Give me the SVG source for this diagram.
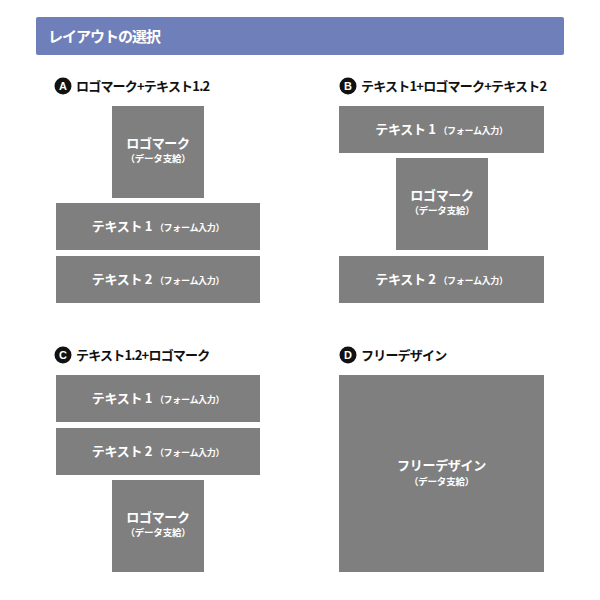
<svg xmlns="http://www.w3.org/2000/svg" width="600" height="600" viewBox="0 0 600 600">
<style>
.box{fill:#7f7f7f}
.t{font-family:"Noto Sans CJK JP","Noto Sans",sans-serif;font-weight:bold}
.big{fill:#fff;font-size:13px;letter-spacing:-0.3px}
.small{font-size:9px;letter-spacing:-0.3px}
.sub{fill:#fff;font-size:9.5px;letter-spacing:-0.2px}
.ttl{fill:#111;font-size:13px;letter-spacing:-0.8px}
.badge{fill:#111}
.bl{fill:#fff;font-size:11px;font-family:"Liberation Sans",sans-serif;font-weight:bold}
</style>
<rect width="600" height="600" fill="#fff"/>
<g id="header">
<rect x="36" y="17" width="528" height="38" rx="2" fill="#6e7fb9"/>
<text class="t" x="48" y="42" fill="#fff" font-size="15" letter-spacing="-1">レイアウトの選択</text>
</g>
<g id="sectionA">
<circle class="badge" cx="63" cy="86" r="8.5"/>
<text class="bl" x="63" y="90" text-anchor="middle">A</text>
<text class="t ttl" x="76" y="91">ロゴマーク+テキスト1.2</text>
<g id="A-logo"><rect class="box" x="112" y="106" width="92" height="92"/>
<text class="t big" x="158" y="148" text-anchor="middle">ロゴマーク</text>
<text class="t sub" x="158" y="162" text-anchor="middle">（データ支給）</text></g>
<g id="A-text1"><rect class="box" x="56" y="203" width="204" height="47"/>
<text class="t big" x="158" y="231" text-anchor="middle">テキスト 1 <tspan class="small">（フォーム入力）</tspan></text></g>
<g id="A-text2"><rect class="box" x="56" y="256" width="204" height="47"/>
<text class="t big" x="158" y="284" text-anchor="middle">テキスト 2 <tspan class="small">（フォーム入力）</tspan></text></g>
</g>
<g id="sectionB">
<circle class="badge" cx="348" cy="86" r="8.5"/>
<text class="bl" x="348" y="90" text-anchor="middle">B</text>
<text class="t ttl" x="361" y="91">テキスト1+ロゴマーク+テキスト2</text>
<g id="B-text1"><rect class="box" x="339" y="106" width="205" height="47"/>
<text class="t big" x="441.5" y="134" text-anchor="middle">テキスト 1 <tspan class="small">（フォーム入力）</tspan></text></g>
<g id="B-logo"><rect class="box" x="396" y="158" width="92" height="92"/>
<text class="t big" x="442" y="200" text-anchor="middle">ロゴマーク</text>
<text class="t sub" x="442" y="214" text-anchor="middle">（データ支給）</text></g>
<g id="B-text2"><rect class="box" x="339" y="256" width="205" height="47"/>
<text class="t big" x="441.5" y="284" text-anchor="middle">テキスト 2 <tspan class="small">（フォーム入力）</tspan></text></g>
</g>
<g id="sectionC">
<circle class="badge" cx="63" cy="355" r="8.5"/>
<text class="bl" x="63" y="359" text-anchor="middle">C</text>
<text class="t ttl" x="76" y="360">テキスト1.2+ロゴマーク</text>
<g id="C-text1"><rect class="box" x="56" y="375" width="204" height="47"/>
<text class="t big" x="158" y="403" text-anchor="middle">テキスト 1 <tspan class="small">（フォーム入力）</tspan></text></g>
<g id="C-text2"><rect class="box" x="56" y="428" width="204" height="47"/>
<text class="t big" x="158" y="456" text-anchor="middle">テキスト 2 <tspan class="small">（フォーム入力）</tspan></text></g>
<g id="C-logo"><rect class="box" x="112" y="480" width="92" height="92"/>
<text class="t big" x="158" y="522" text-anchor="middle">ロゴマーク</text>
<text class="t sub" x="158" y="536" text-anchor="middle">（データ支給）</text></g>
</g>
<g id="sectionD">
<circle class="badge" cx="348" cy="355" r="8.5"/>
<text class="bl" x="348" y="359" text-anchor="middle">D</text>
<text class="t ttl" x="361" y="360">フリーデザイン</text>
<g id="D-free"><rect class="box" x="339" y="375" width="205" height="197"/>
<text class="t big" x="441.5" y="470" text-anchor="middle">フリーデザイン</text>
<text class="t sub" x="441.5" y="485" text-anchor="middle">（データ支給）</text></g>
</g>
</svg>
